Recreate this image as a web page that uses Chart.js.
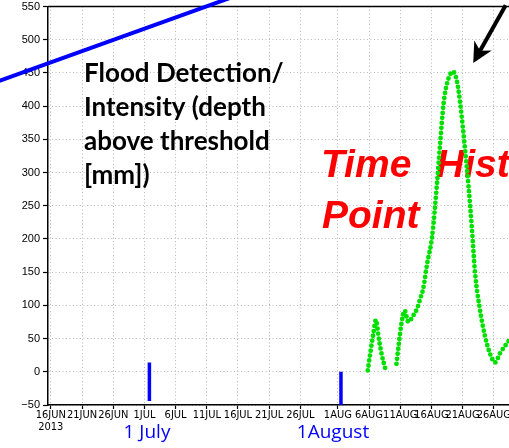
<!DOCTYPE html>
<html>
<head>
<meta charset="utf-8">
<title>Flood detection time history</title>
<script src="https://cdn.jsdelivr.net/npm/chart.js@4.4.1/dist/chart.umd.min.js"></script>
<style>
  html, body { margin: 0; padding: 0; background: #fff; overflow: hidden; }
  #floodChart { position: absolute; left: 0; top: 0; }
</style>
</head>
<body>
<canvas id="floodChart" width="540" height="448"></canvas>
<script>
// x values are days counted from 16 Jun 2013
const tickDays = [0, 5, 10, 15, 20, 25, 30, 35, 40, 46, 51, 56, 61, 66, 71, 76];
const tickLabels = ['16JUN', '21JUN', '26JUN', '1JUL', '6JUL', '11JUL', '16JUL', '21JUL',
                    '26JUL', '1AUG', '6AUG', '11AUG', '16AUG', '21AUG', '26AUG', '31AUG'];
const yearLabel = '2013';

// flood depth above threshold [mm], null = break in the record
const floodDays = [50.8, 51.2, 51.7, 52.1, 52.6, 53.1, 53.6, 54.5,
                   55.4, 55.85, 56.2, 56.7, 57.3, 58.1, 58.7, 59.2, 59.7, 60.3, 61.1,
                   61.9, 62.4, 62.95, 63.5, 64.45, 65.1, 65.6, 66.4, 66.95, 67.5, 68.0,
                   68.7, 69.6, 70.4, 71.2, 72.0, 73.5];
const floodDepth = [2, 28, 58, 78, 48, 23, 5, null,
                    12, 48, 73, 92, 75, 85, 95, 110, 126, 162, 203,
                    284, 344, 404, 434, 452, 437, 405, 334, 279, 214, 148,
                    98, 53, 27, 14, 28, 48];

// blue date markers
const julyMarkDays = [15.8, 15.8];
const julyMarkValues = [14, -44];
const augMarkDays = [46.5, 46.5];
const augMarkValues = [0, -50];

// blue pointer line from the slide
const pointerDays = [-10, 32];
const pointerValues = [432, 574];

// black arrow: tail, head
const arrowDays = [72.9, 67.7];
const arrowValues = [552, 465];

const toPoints = (xs, ys) => xs.map((x, i) => ({ x: x, y: ys[i] }));

const BLUE = '#0000ff';
const GREEN = '#00e000';

const overlayText = {
    id: 'overlayText',
    beforeDatasetsDraw(chart) {
        const ctx = chart.ctx;
        const area = chart.chartArea;
        ctx.save();
        // top frame
        ctx.strokeStyle = '#000';
        ctx.lineWidth = 1.5;
        ctx.beginPath();
        ctx.moveTo(area.left, area.top);
        ctx.lineTo(area.right, area.top);
        ctx.stroke();

        ctx.fillStyle = '#000';
        ctx.font = 'bold 26px Lato, "Open Sans", sans-serif';
        ctx.textBaseline = 'alphabetic';
        ctx.textAlign = 'left';
        const lines = ['Flood Detection/', 'Intensity (depth', 'above threshold', '[mm])'];
        lines.forEach((t, i) => ctx.fillText(t, 84, 82 + i * 34));

        ctx.fillStyle = '#ff0000';
        ctx.font = 'italic bold 39px "Liberation Sans", Arial, sans-serif';
        ctx.fillText('Time', 321, 177);
        ctx.fillText('History at', 436, 177);
        ctx.fillText('Point', 322, 228);
        ctx.restore();
    },
    afterDatasetsDraw(chart) {
        const ctx = chart.ctx;
        const xs = chart.scales.x, ys = chart.scales.y;
        const x0 = xs.getPixelForValue(arrowDays[0]), y0 = ys.getPixelForValue(arrowValues[0]);
        const x1 = xs.getPixelForValue(arrowDays[1]), y1 = ys.getPixelForValue(arrowValues[1]);
        const ang = Math.atan2(y1 - y0, x1 - x0);
        ctx.save();
        ctx.strokeStyle = '#000';
        ctx.fillStyle = '#000';
        ctx.lineWidth = 4;
        ctx.beginPath();
        ctx.moveTo(x0, y0);
        ctx.lineTo(x1 - 10 * Math.cos(ang), y1 - 10 * Math.sin(ang));
        ctx.stroke();
        ctx.translate(x1, y1);
        ctx.rotate(ang);
        ctx.beginPath();
        ctx.moveTo(0, 0);
        ctx.lineTo(-20, -10);
        ctx.lineTo(-14, 0);
        ctx.lineTo(-20, 10);
        ctx.closePath();
        ctx.fill();
        ctx.restore();

        ctx.save();
        ctx.fillStyle = BLUE;
        ctx.font = '19px "Open Sans", Lato, sans-serif';
        ctx.textAlign = 'center';
        ctx.textBaseline = 'middle';
        ctx.fillText('1 July', 147, 433);
        ctx.fillText('1August', 333, 433);
        ctx.restore();
    }
};

new Chart(document.getElementById('floodChart'), {
    type: 'line',
    data: {
        datasets: [{
            label: 'pointer',
            data: toPoints(pointerDays, pointerValues),
            borderColor: BLUE,
            borderWidth: 4,
            pointRadius: 0,
            clip: false
        }, {
            label: '1 July',
            data: toPoints(julyMarkDays, julyMarkValues),
            borderColor: BLUE,
            borderWidth: 3.5,
            pointRadius: 0
        }, {
            label: '1 August',
            data: toPoints(augMarkDays, augMarkValues),
            borderColor: BLUE,
            borderWidth: 3.5,
            pointRadius: 0,
            clip: false
        }, {
            label: 'flood depth',
            data: toPoints(floodDays, floodDepth),
            borderColor: GREEN,
            borderWidth: 4.8,
            borderDash: [0, 5],
            borderCapStyle: 'round',
            cubicInterpolationMode: 'monotone',
            spanGaps: false,
            pointRadius: 0
        }]
    },
    options: {
        responsive: false,
        animation: false,
        layout: { padding: { top: 6.5, left: 0, right: 0, bottom: 0 } },
        plugins: {
            legend: { display: false },
            tooltip: { enabled: false }
        },
        scales: {
            x: {
                type: 'linear',
                min: -0.45,
                max: 78.4,
                afterBuildTicks: (scale) => {
                    scale.ticks = tickDays.map(v => ({ value: v }));
                },
                afterFit: (scale) => {
                    scale.height = 43;
                    scale.paddingLeft = 0;
                    scale.paddingRight = 0;
                },
                ticks: {
                    autoSkip: false,
                    maxRotation: 0,
                    minRotation: 0,
                    padding: 0,
                    color: '#000',
                    font: { family: '"Liberation Sans Narrow", "DejaVu Sans Condensed", "Liberation Sans", sans-serif', size: 11, lineHeight: 1.1 },
                    callback: (value) => {
                        const i = tickDays.indexOf(value);
                        if (i < 0) return '';
                        return i === 0 ? [tickLabels[i], yearLabel] : tickLabels[i];
                    }
                },
                grid: {
                    color: '#b8b8b8',
                    lineWidth: 1,
                    tickLength: 4,
                    tickColor: '#000',
                    tickWidth: 1.2,
                    tickBorderDash: []
                },
                border: { display: true, color: '#000', width: 1.5, dash: [1, 2.5] }
            },
            y: {
                min: -50,
                max: 550,
                afterFit: (scale) => {
                    scale.width = 48;
                    scale.paddingTop = 0;
                    scale.paddingBottom = 0;
                },
                ticks: {
                    stepSize: 50,
                    padding: 3,
                    color: '#000',
                    font: { family: '"Liberation Sans", Arial, sans-serif', size: 11 },
                    callback: (v) => String(v).replace('-', '\u2212')
                },
                grid: {
                    color: '#b8b8b8',
                    lineWidth: 1,
                    tickLength: 5,
                    tickColor: '#000',
                    tickWidth: 1.2,
                    tickBorderDash: []
                },
                border: { display: true, color: '#000', width: 1.5, dash: [1, 2.5] }
            }
        }
    },
    plugins: [overlayText]
});
</script>
</body>
</html>
